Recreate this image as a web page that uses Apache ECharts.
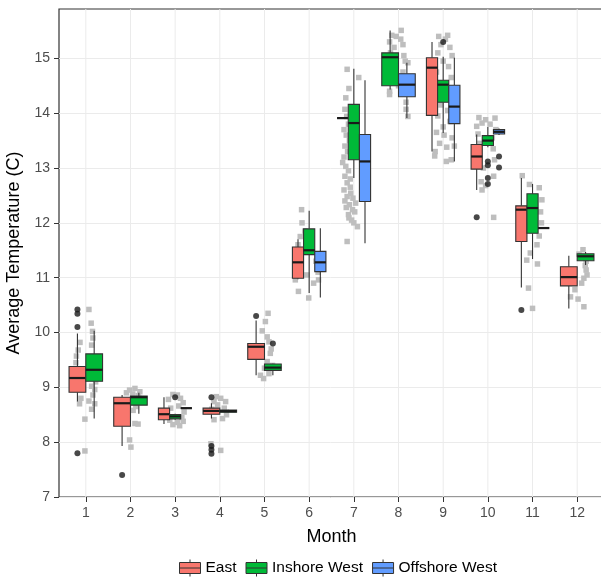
<!DOCTYPE html>
<html><head><meta charset="utf-8">
<script src="https://cdn.jsdelivr.net/npm/echarts@6/dist/echarts.min.js"></script>
<style>html,body{margin:0;padding:0;background:#fff}#c{width:601px;height:579px}</style>
</head><body><div id="c"></div>
<script>
const months = [1,2,3,4,5,6,7,8,9,10,11,12];
const groupNames = ['East','Inshore West','Offshore West'];
const yTicks = [7,8,9,10,11,12,13,14,15];

// [month, lowerWhisker, q1, median, q3, upperWhisker]
const eastStats = [
  [1, 8.74, 8.91, 9.17, 9.38, 9.98],
  [2, 7.93, 8.29, 8.71, 8.82, 8.86],
  [3, 8.33, 8.41, 8.51, 8.62, 8.82],
  [4, 8.43, 8.51, 8.57, 8.62, 8.71],
  [5, 9.22, 9.51, 9.74, 9.80, 10.22],
  [6, 10.97, 10.99, 11.28, 11.56, 11.70],
  [7, 13.91, 13.91, 13.91, 13.91, 13.91],
  [9, 13.30, 13.96, 14.83, 15.01, 15.30],
  [10, 12.60, 12.98, 13.21, 13.43, 13.61],
  [11, 10.82, 11.66, 12.24, 12.31, 12.82],
  [12, 10.44, 10.85, 11.01, 11.20, 11.40]
];
const inshoreStats = [
  [1, 8.43, 9.11, 9.32, 9.61, 10.03],
  [2, 8.52, 8.675, 8.82, 8.84, 8.90],
  [3, 8.41, 8.425, 8.47, 8.505, 8.52],
  [4, 8.54, 8.545, 8.565, 8.585, 8.59],
  [5, 9.22, 9.31, 9.36, 9.425, 9.43],
  [6, 10.72, 11.42, 11.50, 11.89, 12.22],
  [7, 12.82, 13.15, 13.82, 14.16, 14.81],
  [8, 14.43, 14.50, 15.02, 15.10, 15.51],
  [9, 13.64, 14.20, 14.52, 14.60, 15.03],
  [10, 13.38, 13.41, 13.50, 13.59, 13.75],
  [11, 11.34, 11.81, 12.27, 12.53, 12.71],
  [12, 11.23, 11.31, 11.39, 11.435, 11.47]
];
const offshoreStats = [
  [3, 8.62, 8.62, 8.62, 8.62, 8.62],
  [6, 10.64, 11.11, 11.28, 11.48, 11.90],
  [7, 11.63, 12.39, 13.12, 13.61, 14.60],
  [8, 13.91, 14.30, 14.52, 14.72, 14.92],
  [9, 13.12, 13.81, 14.12, 14.51, 15.01],
  [10, 13.60, 13.62, 13.66, 13.70, 13.72],
  [11, 11.905, 11.905, 11.905, 11.905, 11.905]
];

// [month, value]
const eastOutliers = [[1,10.42],[1,10.34],[1,10.10],[1,7.80],[2,7.40],[4,8.82],[4,7.93],[4,7.86],[4,7.79],[5,10.30],[10,12.10],[11,10.41]];
const inshoreOutliers = [[3,8.82],[5,9.80],[9,15.30],[10,13.12],[10,13.05],[10,12.82],[10,12.71]];
const offshoreOutliers = [[10,13.21],[10,13.01]];

// jittered raw observations [x (month + jitter), temperature]
const jitterPoints = [
  [1.07,10.42],[1.12,10.17],[1.15,10.02],[1.16,9.90],[1.13,9.77],[0.87,9.82],[0.83,9.68],[0.79,9.57],[0.78,9.45],[1.13,9.02],[1.20,8.96],[1.16,8.86],[1.07,8.75],[1.20,8.70],[1.13,8.60],[0.89,8.80],[0.86,8.70],[0.98,8.42],[0.98,7.84],[1.22,9.10],[1.18,9.20],[0.80,9.30],
  [1.98,8.95],[2.10,8.98],[2.21,8.92],[1.91,8.90],[2.05,8.88],[2.17,8.85],[2.10,8.34],[2.17,8.33],[1.98,8.04],[2.01,7.91],[2.06,8.58],[2.25,8.74],[2.20,8.80],[2.12,8.65],
  [2.95,8.87],[3.05,8.86],[3.12,8.80],[2.85,8.78],[3.18,8.72],[3.08,8.66],[2.90,8.62],[3.20,8.55],[3.15,8.45],[2.88,8.40],[3.05,8.36],[3.18,8.38],[2.95,8.32],[3.10,8.30],
  [3.92,8.83],[4.02,8.80],[4.13,8.74],[3.87,8.74],[3.95,8.68],[4.10,8.62],[3.82,8.60],[4.15,8.50],[4.06,8.43],[3.87,8.41],[3.80,7.97],[4.02,7.85],
  [5.08,10.35],[5.02,10.20],[4.95,10.03],[5.06,9.92],[5.10,9.83],[5.15,9.70],[5.13,9.62],[5.06,9.47],[5.18,9.40],[5.00,9.35],[4.91,9.22],[4.98,9.16],[5.10,9.25],
  [5.83,12.24],[5.84,12.00],[5.90,11.85],[5.80,11.75],[6.05,11.70],[5.75,11.60],[6.15,11.30],[6.20,11.10],[6.21,10.96],[5.95,11.05],[5.69,10.96],[5.76,10.75],[5.99,10.63],[6.10,10.90],[5.78,11.40],
  [6.85,14.80],[7.11,14.65],[6.89,14.45],[6.82,14.28],[6.80,14.07],[6.84,13.94],[6.88,13.80],[6.78,13.70],[6.83,13.60],[6.90,13.50],[6.80,13.40],[6.86,13.30],[6.78,13.20],[6.82,13.03],[6.88,12.95],[6.80,12.85],[6.85,12.73],[6.92,12.65],[6.78,12.60],[6.93,12.54],[6.85,12.48],[6.98,12.45],[6.80,12.40],[7.04,12.36],[6.90,12.33],[6.83,12.28],[6.97,12.24],[7.02,12.20],[6.88,12.15],[6.89,12.09],[6.95,12.05],[7.00,12.00],[7.08,11.93],[6.85,11.66],[6.92,12.80],[6.75,13.10],[6.95,13.90],
  [8.06,15.51],[7.85,15.42],[7.95,15.40],[8.05,15.35],[7.80,15.30],[8.10,15.25],[7.90,15.20],[7.82,15.10],[8.12,15.05],[8.15,14.95],[8.21,14.92],[7.80,14.80],[8.10,14.75],[7.85,14.60],[8.00,14.50],[7.80,14.40],[7.80,14.34],[8.17,14.20],[8.17,14.07],[8.21,13.94],
  [8.90,15.40],[9.10,15.42],[9.05,15.35],[8.95,15.25],[9.15,15.20],[8.88,15.10],[9.20,15.05],[9.00,14.95],[9.12,14.85],[8.85,14.75],[9.18,14.65],[8.92,14.55],[9.08,14.45],[8.86,14.35],[9.20,14.25],[8.95,14.15],[9.10,14.05],[8.88,13.95],[9.15,13.85],[9.00,13.75],[8.85,13.65],[9.20,13.55],[8.92,13.45],[9.08,13.38],[8.82,13.30],[8.81,13.22],[9.07,13.12],[9.18,13.15],[9.25,13.40],[9.02,13.60],
  [9.80,13.92],[10.16,13.91],[9.95,13.88],[9.87,13.82],[10.05,13.80],[9.75,13.76],[10.18,13.70],[9.78,13.62],[10.10,13.55],[9.82,13.45],[10.12,13.35],[9.78,13.28],[10.15,13.15],[9.90,13.00],[10.13,12.85],[9.85,12.75],[9.95,12.68],[9.87,12.60],[10.13,12.10],
  [10.77,12.86],[10.93,12.70],[11.15,12.64],[11.21,12.42],[11.18,12.20],[11.20,12.00],[11.15,11.76],[11.10,11.60],[10.95,11.45],[10.87,11.32],[11.11,11.25],[10.91,10.81],[11.00,10.44],
  [12.13,11.51],[12.04,11.43],[12.20,11.30],[12.18,11.22],[12.20,11.14],[12.15,10.99],[12.10,10.90],[11.95,10.78],[11.85,10.65],[12.02,10.61],[12.15,10.47],[12.22,11.05]
];

const statsByGroup = [eastStats, inshoreStats, offshoreStats];
const outliersByGroup = [eastOutliers, inshoreOutliers, offshoreOutliers];
const colors = ['#F8766D', '#00BA38', '#619CFF'];
const Y_MIN = 7, Y_MAX = 15.9;
const FONT = '"Liberation Sans", Arial, sans-serif';

const present = {};
months.forEach(m => present[m] = []);
statsByGroup.forEach((arr, gi) => arr.forEach(r => present[r[0]].push(gi)));
const DODGE = 0.75;
function slot(month, gi) {
  const list = present[month];
  const k = list.length;
  const i = list.indexOf(gi);
  const w = DODGE / k;
  return { cx: month - DODGE / 2 + (i + 0.5) * w, hw: w / 2 };
}

const KEY_ICON = 'path://M10.5,0L10.5,3M0,3L21,3L21,14L0,14ZM0,8.5L21,8.5M10.5,14L10.5,17';

const series = [];
series.push({
  type: 'custom', name: 'gridx', z: 1, silent: true,
  data: months.map(m => [m]),
  encode: { x: 0 },
  renderItem: (params, api) => {
    const m = api.value(0);
    const a = api.coord([m, Y_MIN]), b = api.coord([m, Y_MAX]);
    return { type: 'line', shape: { x1: a[0], y1: a[1], x2: b[0], y2: b[1] }, style: { stroke: '#EBEBEB', lineWidth: 1 } };
  }
});
series.push({
  type: 'scatter', name: 'obs', z: 2, silent: true,
  data: jitterPoints, symbol: 'rect', symbolSize: 5.5,
  itemStyle: { color: '#BEBEBE', opacity: 1 }
});
groupNames.forEach((name, gi) => {
  series.push({
    type: 'custom', name: name, z: 3, silent: true,
    itemStyle: { color: colors[gi] },
    data: statsByGroup[gi],
    encode: { x: 0, y: [1, 2, 3, 4, 5] },
    renderItem: (params, api) => {
      const m = api.value(0), lw = api.value(1), q1 = api.value(2), med = api.value(3), q3 = api.value(4), uw = api.value(5);
      const s = slot(m, gi);
      const tl = api.coord([s.cx - s.hw, q3]);
      const br = api.coord([s.cx + s.hw, q1]);
      const c = v => api.coord([s.cx, v]);
      const ch = [];
      if (uw > q3) { const a = c(q3), b = c(uw); ch.push({ type: 'line', shape: { x1: a[0], y1: a[1], x2: b[0], y2: b[1] }, style: { stroke: '#333', lineWidth: 1.1 } }); }
      if (lw < q1) { const a = c(q1), b = c(lw); ch.push({ type: 'line', shape: { x1: a[0], y1: a[1], x2: b[0], y2: b[1] }, style: { stroke: '#333', lineWidth: 1.1 } }); }
      ch.push({ type: 'rect', shape: { x: tl[0], y: tl[1], width: br[0] - tl[0], height: br[1] - tl[1] }, style: { fill: colors[gi], stroke: '#333', lineWidth: 1.1 } });
      const pm = c(med);
      ch.push({ type: 'line', shape: { x1: tl[0], y1: pm[1], x2: br[0], y2: pm[1] }, style: { stroke: '#1a1a1a', lineWidth: 2.2 } });
      return { type: 'group', children: ch };
    }
  });
  series.push({
    type: 'scatter', name: name + ' outliers', z: 4, silent: true,
    data: outliersByGroup[gi].map(o => [slot(o[0], gi).cx, o[1]]),
    symbol: 'circle', symbolSize: 6,
    itemStyle: { color: '#1a1a1a' }
  });
});

const chart = echarts.init(document.getElementById('c'), null, { renderer: 'canvas' });
chart.setOption({
  animation: false,
  backgroundColor: '#fff',
  textStyle: { fontFamily: FONT },
  grid: { left: 59, right: -3, top: 9, bottom: 82, show: true, borderColor: '#333', borderWidth: 1.2, backgroundColor: '#fff', containLabel: false, outerBoundsMode: 'none' },
  legend: {
    data: groupNames.map(n => ({ name: n, icon: KEY_ICON })),
    left: 179, top: 559, padding: 0, itemWidth: 21, itemHeight: 17, itemGap: 9,
    selectedMode: false,
    textStyle: { fontSize: 15.5, color: '#000', fontFamily: FONT },
    itemStyle: { borderColor: '#333', borderWidth: 1 }
  },
  xAxis: {
    type: 'value', min: 0.4, max: 12.6,
    name: 'Month', nameLocation: 'middle', nameGap: 31,
    nameTextStyle: { fontSize: 18, color: '#000', fontFamily: FONT },
    axisLine: { show: false },
    axisTick: { show: true, length: 5, customValues: months, lineStyle: { color: '#333' } },
    axisLabel: { customValues: months, fontSize: 14, color: '#4D4D4D', margin: 9, fontFamily: FONT, formatter: v => String(v) },
    splitLine: { show: false }
  },
  yAxis: {
    type: 'value', min: Y_MIN, max: Y_MAX, interval: 0.5,
    name: 'Average Temperature (C)', nameLocation: 'middle', nameGap: 35, nameRotate: 90,
    nameTextStyle: { fontSize: 18, color: '#000', fontFamily: FONT },
    axisLine: { show: false },
    axisTick: { show: true, length: 5, customValues: yTicks, lineStyle: { color: '#333' } },
    axisLabel: { customValues: yTicks, fontSize: 14, color: '#4D4D4D', margin: 9, fontFamily: FONT, formatter: v => String(v) },
    splitLine: { show: true, lineStyle: { color: '#EBEBEB', width: 1 } }
  },
  series: series
});
</script></body></html>
